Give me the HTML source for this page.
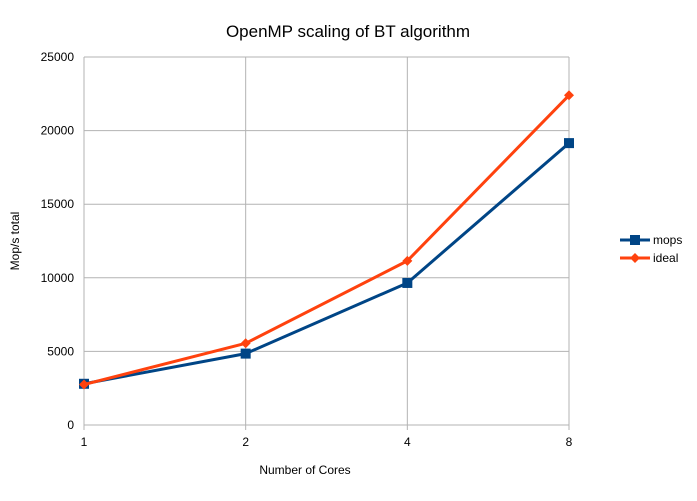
<!DOCTYPE html>
<html><head><meta charset="utf-8"><style>
body{margin:0;background:#fff;font-family:"Liberation Sans",sans-serif;}
</style></head><body>
<svg id="chart" width="697" height="496" xmlns="http://www.w3.org/2000/svg" font-family="Liberation Sans, sans-serif">
<text x="348" y="37" text-anchor="middle" font-size="17" fill="#000">OpenMP scaling of BT algorithm</text>
<text x="305" y="474" text-anchor="middle" font-size="12">Number of Cores</text>
<text transform="translate(19,241) rotate(-90)" text-anchor="middle" font-size="12">Mop/s total</text>
<g id="grid"></g><g id="series"></g><g id="legend"></g>
</svg>
<script>
const categories=["1","2","4","8"];
const mops=[2800,4850,9650,19150];
const ideal=[2750,5550,11150,22400];
const yTicks=[0,5000,10000,15000,20000,25000];
const NS="http://www.w3.org/2000/svg";
const x0=84,x1=569,yTop=57,yBot=425,yMax=25000;
const xs=i=>x0+i*(x1-x0)/(categories.length-1);
const ys=v=>yBot-v/yMax*(yBot-yTop);
function mk(t,a,p){const e=document.createElementNS(NS,t);for(const k in a)e.setAttribute(k,a[k]);p.appendChild(e);return e;}
const g=document.getElementById('grid');
yTicks.forEach(v=>{
 const l=mk('line',{x1:x0,x2:x1,y1:ys(v),y2:ys(v),stroke:'#b3b3b3','stroke-width':1},g);
 
 
 const t=mk('text',{x:x0-10,y:ys(v)+4,'text-anchor':'end','font-size':12},g);
 t.textContent=v;
 
 
});
categories.forEach((c,i)=>{
 const l=mk('line',{x1:xs(i),x2:xs(i),y1:yTop,y2:yBot+5,stroke:'#b3b3b3','stroke-width':1},g);
 
 
 const t=mk('text',{x:xs(i),y:yBot+21,'text-anchor':'middle','font-size':12},g);
 t.textContent=c;
 
 
});
const s=document.getElementById('series');
function series(vals,color,name,shape){
 const p=mk('polyline',{points:vals.map((v,i)=>xs(i)+','+ys(v)).join(' '),fill:'none',stroke:color,'stroke-width':3,'stroke-linejoin':'round'},s);
 
 
 vals.forEach((v,i)=>{
  let m;
  if(shape==='sq') m=mk('rect',{x:xs(i)-5,y:ys(v)-5,width:10,height:10,fill:color},s);
  else m=mk('polygon',{points:`${xs(i)},${ys(v)-5} ${xs(i)+5},${ys(v)} ${xs(i)},${ys(v)+5} ${xs(i)-5},${ys(v)}`,fill:color},s);
  
  
 });
}
series(mops,'#004586','mops','sq');
series(ideal,'#ff420e','ideal','dia');
const lg=document.getElementById('legend');
[['mops','#004586','sq',240],['ideal','#ff420e','dia',258]].forEach(([n,c,sh,y])=>{
 const l=mk('line',{x1:620,x2:650,y1:y,y2:y,stroke:c,'stroke-width':3},lg);
 
 
 let m;
 if(sh==='sq') m=mk('rect',{x:630,y:y-5,width:10,height:10,fill:c},lg);
 else m=mk('polygon',{points:`635,${y-5} 640,${y} 635,${y+5} 630,${y}`,fill:c},lg);
 
 
 const t=mk('text',{x:653,y:y+4,'font-size':12},lg);
 t.textContent=n;
 
 
});
</script>
</body></html>
